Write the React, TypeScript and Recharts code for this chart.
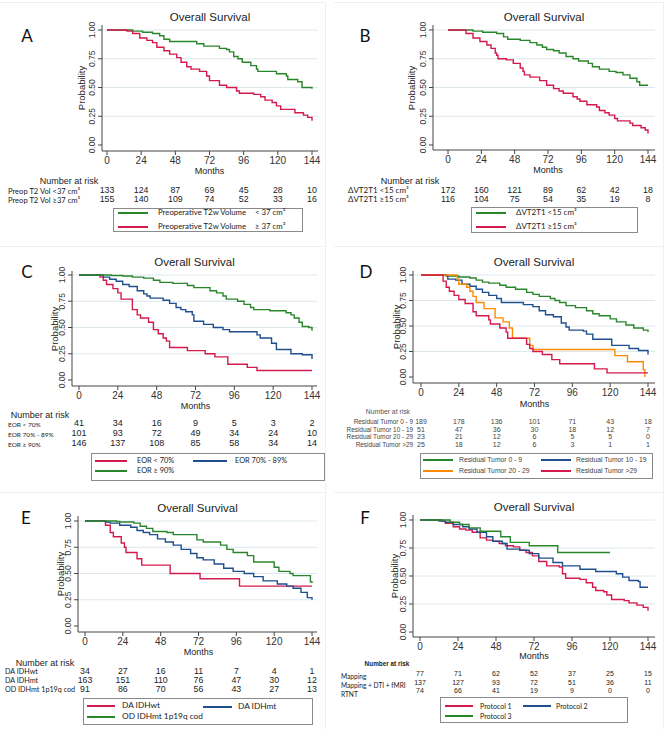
import React from 'react';
import { LineChart, Line, XAxis, YAxis, CartesianGrid } from 'recharts';

type Pt = [number, number];

const MONTH_TICKS = [0, 24, 48, 72, 96, 120, 144];
const PROB_TICKS = [0, 0.25, 0.5, 0.75, 1];

// Kaplan-Meier steps: [month, survival]
const aLow: Pt[] = [[0, 1], [14, 1], [18, 0.99], [25, 0.98], [32, 0.97], [37, 0.95], [40, 0.92], [44, 0.9], [63, 0.88], [68, 0.86], [79, 0.84], [84, 0.83], [86, 0.81], [89, 0.77], [92, 0.75], [95, 0.72], [101, 0.69], [105, 0.66], [106, 0.64], [119, 0.62], [126, 0.6], [127, 0.57], [134, 0.55], [137, 0.5], [144, 0.49]];
const aHigh: Pt[] = [[0, 1], [14, 0.99], [18, 0.97], [23, 0.93], [28, 0.91], [32, 0.89], [35, 0.85], [40, 0.82], [44, 0.79], [49, 0.76], [52, 0.72], [56, 0.68], [59, 0.66], [65, 0.64], [70, 0.6], [72, 0.56], [79, 0.52], [84, 0.5], [91, 0.47], [93, 0.45], [103, 0.44], [108, 0.42], [111, 0.39], [116, 0.37], [119, 0.34], [122, 0.31], [132, 0.28], [138, 0.26], [141, 0.24], [144, 0.21]];

const bLow: Pt[] = [[0, 1], [13, 1], [18, 0.99], [25, 0.98], [35, 0.97], [40, 0.94], [43, 0.92], [52, 0.91], [59, 0.89], [64, 0.87], [68, 0.85], [71, 0.83], [76, 0.82], [80, 0.8], [85, 0.77], [90, 0.75], [94, 0.73], [101, 0.71], [104, 0.68], [109, 0.66], [116, 0.64], [121, 0.63], [126, 0.61], [131, 0.58], [136, 0.55], [138, 0.52], [144, 0.52]];
const bHigh: Pt[] = [[0, 1], [13, 0.97], [18, 0.93], [23, 0.9], [28, 0.87], [31, 0.84], [34, 0.8], [35, 0.78], [36, 0.75], [42, 0.74], [47, 0.71], [52, 0.67], [54, 0.64], [55, 0.61], [59, 0.59], [66, 0.56], [71, 0.52], [76, 0.49], [80, 0.47], [83, 0.45], [90, 0.42], [93, 0.4], [95, 0.38], [100, 0.35], [107, 0.33], [109, 0.3], [113, 0.28], [116, 0.26], [120, 0.23], [122, 0.21], [131, 0.19], [133, 0.17], [139, 0.15], [142, 0.13], [144, 0.1]];

const cLow: Pt[] = [[0, 1], [13, 0.98], [15, 0.95], [17, 0.91], [21, 0.87], [24, 0.83], [26, 0.77], [33, 0.67], [36, 0.62], [38, 0.59], [43, 0.55], [46, 0.48], [49, 0.44], [52, 0.4], [54, 0.37], [56, 0.31], [67, 0.28], [78, 0.25], [84, 0.22], [92, 0.15], [104, 0.12], [110, 0.09], [144, 0.09]];
const cMid: Pt[] = [[0, 1], [15, 0.98], [19, 0.96], [23, 0.94], [27, 0.91], [31, 0.89], [36, 0.85], [40, 0.82], [42, 0.8], [44, 0.78], [52, 0.76], [56, 0.73], [60, 0.69], [63, 0.67], [66, 0.65], [70, 0.62], [71, 0.56], [77, 0.53], [83, 0.5], [89, 0.48], [93, 0.46], [110, 0.43], [112, 0.4], [119, 0.35], [122, 0.29], [131, 0.25], [138, 0.24], [144, 0.2]];
const cHigh: Pt[] = [[0, 1], [20, 0.995], [27, 0.99], [33, 0.98], [40, 0.97], [46, 0.95], [50, 0.93], [58, 0.92], [67, 0.9], [71, 0.88], [81, 0.85], [85, 0.83], [89, 0.8], [91, 0.77], [98, 0.75], [102, 0.72], [106, 0.69], [108, 0.67], [118, 0.66], [128, 0.64], [131, 0.62], [133, 0.59], [136, 0.55], [138, 0.51], [142, 0.5], [144, 0.47]];

const d0to9: Pt[] = [[0, 1], [16, 0.99], [24, 0.98], [31, 0.97], [35, 0.95], [39, 0.93], [43, 0.92], [50, 0.9], [54, 0.88], [60, 0.86], [67, 0.83], [71, 0.81], [75, 0.79], [82, 0.77], [85, 0.75], [88, 0.73], [92, 0.7], [98, 0.68], [105, 0.65], [109, 0.62], [113, 0.6], [120, 0.57], [124, 0.54], [130, 0.51], [135, 0.48], [141, 0.46], [144, 0.44]];
const d10to19: Pt[] = [[0, 1], [17, 0.96], [22, 0.95], [26, 0.91], [31, 0.89], [35, 0.86], [39, 0.83], [43, 0.8], [48, 0.77], [51, 0.73], [65, 0.71], [71, 0.69], [75, 0.65], [79, 0.61], [84, 0.59], [89, 0.53], [92, 0.49], [94, 0.46], [103, 0.45], [105, 0.42], [109, 0.37], [121, 0.31], [132, 0.28], [138, 0.26], [144, 0.22]];
const d20to29: Pt[] = [[0, 1], [23, 0.96], [24, 0.91], [29, 0.88], [31, 0.84], [33, 0.79], [35, 0.73], [40, 0.67], [47, 0.58], [52, 0.54], [56, 0.48], [58, 0.38], [69, 0.31], [71, 0.27], [123, 0.21], [131, 0.15], [141, 0.07], [142, 0]];
const dOver29: Pt[] = [[0, 1], [14, 0.94], [16, 0.88], [18, 0.84], [21, 0.8], [24, 0.76], [28, 0.72], [33, 0.64], [35, 0.6], [43, 0.56], [44, 0.52], [50, 0.48], [54, 0.44], [55, 0.38], [67, 0.32], [69, 0.28], [71, 0.25], [77, 0.22], [83, 0.17], [88, 0.13], [110, 0.08], [118, 0.04], [144, 0.04]];

const eWt: Pt[] = [[0, 1], [13, 0.96], [16, 0.89], [18, 0.85], [23, 0.79], [25, 0.75], [26, 0.7], [33, 0.64], [36, 0.58], [54, 0.5], [73, 0.45], [98, 0.38], [144, 0.38]];
const eMt: Pt[] = [[0, 1], [13, 0.99], [16, 0.98], [22, 0.96], [29, 0.94], [33, 0.91], [37, 0.89], [41, 0.87], [46, 0.83], [51, 0.8], [56, 0.77], [61, 0.73], [67, 0.69], [71, 0.65], [75, 0.63], [82, 0.59], [88, 0.55], [94, 0.52], [101, 0.5], [107, 0.47], [113, 0.43], [122, 0.4], [128, 0.38], [132, 0.36], [137, 0.32], [141, 0.27], [144, 0.25]];
const eOd: Pt[] = [[0, 1], [20, 0.995], [22, 0.99], [31, 0.98], [35, 0.95], [39, 0.93], [43, 0.9], [52, 0.89], [56, 0.87], [71, 0.82], [75, 0.8], [86, 0.77], [90, 0.73], [94, 0.7], [103, 0.67], [107, 0.61], [120, 0.56], [123, 0.52], [130, 0.5], [132, 0.48], [143, 0.42], [144, 0.41]];

const fP1: Pt[] = [[0, 1], [14, 0.99], [16, 0.97], [21, 0.94], [25, 0.92], [29, 0.91], [33, 0.89], [38, 0.84], [42, 0.82], [46, 0.81], [50, 0.79], [54, 0.77], [59, 0.76], [63, 0.73], [67, 0.71], [71, 0.68], [75, 0.63], [80, 0.59], [88, 0.58], [90, 0.52], [92, 0.48], [101, 0.47], [105, 0.44], [109, 0.4], [111, 0.37], [116, 0.36], [118, 0.33], [121, 0.29], [129, 0.28], [132, 0.26], [137, 0.24], [141, 0.22], [144, 0.19]];
const fP2: Pt[] = [[0, 1], [12, 0.99], [16, 0.98], [21, 0.96], [27, 0.94], [31, 0.92], [36, 0.89], [42, 0.85], [46, 0.81], [52, 0.79], [55, 0.74], [63, 0.73], [69, 0.7], [75, 0.66], [84, 0.62], [90, 0.59], [101, 0.56], [111, 0.54], [124, 0.52], [128, 0.49], [132, 0.46], [138, 0.45], [139, 0.4], [144, 0.4]];
const fP3: Pt[] = [[0, 1], [14, 1], [19, 0.98], [25, 0.96], [31, 0.93], [38, 0.9], [51, 0.85], [57, 0.8], [69, 0.77], [87, 0.71], [120, 0.71]];

// Number at risk
const aRiskLabels = ['Preop T2 Vol <37 cm³', 'Preop T2 Vol ≥37 cm³'];
const aRisk = [[133, 124, 87, 69, 45, 28, 10], [155, 140, 109, 74, 52, 33, 16]];
const bRiskLabels = ['ΔVT2T1 <15 cm³', 'ΔVT2T1 ≥15 cm³'];
const bRisk = [[172, 160, 121, 89, 62, 42, 18], [116, 104, 75, 54, 35, 19, 8]];
const cRiskLabels = ['EOR < 70%', 'EOR 70% - 89%', 'EOR ≥ 90%'];
const cRisk = [[41, 34, 16, 9, 5, 3, 2], [101, 93, 72, 49, 34, 24, 10], [146, 137, 108, 85, 58, 34, 14]];
const dRiskLabels = ['Residual Tumor 0 - 9', 'Residual Tumor 10 - 19', 'Residual Tumor 20 - 29', 'Residual Tumor >29'];
const dRisk = [[189, 178, 136, 101, 71, 43, 18], [51, 47, 36, 30, 18, 12, 7], [23, 21, 12, 6, 5, 5, 0], [25, 18, 12, 6, 3, 1, 1]];
const eRiskLabels = ['DA IDHwt', 'DA IDHmt', 'OD IDHmt 1p19q cod'];
const eRisk = [[34, 27, 16, 11, 7, 4, 1], [163, 151, 110, 76, 47, 30, 12], [91, 86, 70, 56, 43, 27, 13]];
const fRiskLabels = ['Mapping', 'Mapping + DTI + fMRI', 'RTNT'];
const fRisk = [[77, 71, 62, 52, 37, 25, 15], [137, 127, 93, 72, 51, 36, 11], [74, 66, 41, 19, 9, 0, 0]];

const GREEN = '#2a862a';
const RED = '#d41a4c';
const BLUE = '#1f4f8c';
const ORANGE = '#ff8a00';

const ARIAL = '"Liberation Sans", Arial, sans-serif';
const CAL = 'Lato, "Open Sans", sans-serif';

const YW = 30;
const XH = 22;
const PADT = 4;

type Anchor = 'start' | 'middle' | 'end';

const T = ({ x, y, a = 'start', size, font = ARIAL, color = '#222', bold, rot, children }: {
    x: number; y: number; a?: Anchor; size: number; font?: string; color?: string; bold?: boolean; rot?: boolean; children: React.ReactNode;
}) => {
    const tx = a === 'start' ? '0' : a === 'middle' ? '-50%' : '-100%';
    return (
        <div
            style={{
                position: 'absolute', left: x, top: y, fontSize: size, fontFamily: font, color,
                fontWeight: bold ? 700 : 400, lineHeight: 0.9, whiteSpace: 'nowrap',
                transform: rot ? 'translate(-50%,-50%) rotate(-90deg)' : `translate(${tx},-50%)`,
            }}
        >
            {children}
        </div>
    );
};

const YTick = (props: any) => {
    const { x, y, payload } = props;
    return (
        <text x={x} y={y} transform={`rotate(-90 ${x} ${y})`} textAnchor="middle" fontSize={8.5} fill="#333" fontFamily={ARIAL}>
            {Number(payload.value).toFixed(2)}
        </text>
    );
};

interface LegendItem { color: string; x1: number; x2: number; y: number; tx: number; text: string; text2?: string; t2x?: number }

interface PanelCfg {
    letter: string; lx: number; ly: number;
    axL: number; axR: number; axT: number; axB: number; x0: number; x144: number; y1: number; y0: number;
    titleY: number; probX: number; monthsY: number;
    series: { color: string; pts: Pt[] }[];
    header: { x: number; y: number; a: Anchor; size: number; color?: string; bold?: boolean };
    labels: string[]; labelX: number; labelA: Anchor; labelYs: number[]; labelSize: number; labelFont: string;
    risk: number[][]; numYs: number[]; numSize: number; tColor?: string;
    box: { l: number; t: number; w: number; h: number };
    legend: LegendItem[]; legSize: number; legFont: string;
}

const panels: PanelCfg[] = [
    {
        letter: 'A', lx: 27, ly: 36,
        axL: 102, axR: 318, axT: 25, axB: 151, x0: 107, x144: 312, y1: 30, y0: 145,
        titleY: 17, probX: 82, monthsY: 170.5,
        series: [{ color: GREEN, pts: aLow }, { color: RED, pts: aHigh }],
        header: { x: 69, y: 180.5, a: 'middle', size: 9 },
        labels: aRiskLabels, labelX: 8, labelA: 'start', labelYs: [191, 199.5], labelSize: 7.6, labelFont: CAL,
        risk: aRisk, numYs: [190.5, 199.5], numSize: 8.8,
        box: { l: 113, t: 208, w: 190, h: 24 },
        legend: [
            { color: GREEN, x1: 118, x2: 148, y: 213, tx: 158, text: 'Preoperative T2w Volume', text2: '< 37 cm³', t2x: 255 },
            { color: RED, x1: 118, x2: 148, y: 227, tx: 158, text: 'Preoperative T2w Volume', text2: '≥ 37 cm³', t2x: 255 },
        ], legSize: 7.8, legFont: CAL,
    },
    {
        letter: 'B', lx: 365, ly: 36,
        axL: 433, axR: 655, axT: 25, axB: 150, x0: 448, x144: 648, y1: 30, y0: 145,
        titleY: 17, probX: 412, monthsY: 170,
        series: [{ color: GREEN, pts: bLow }, { color: RED, pts: bHigh }],
        header: { x: 410, y: 180.5, a: 'middle', size: 9 },
        labels: bRiskLabels, labelX: 348, labelA: 'start', labelYs: [190.5, 199.5], labelSize: 8, labelFont: CAL,
        risk: bRisk, numYs: [190.5, 199.5], numSize: 8.8,
        box: { l: 471, t: 207, w: 167, h: 26 },
        legend: [
            { color: GREEN, x1: 476, x2: 506, y: 213, tx: 516, text: 'ΔVT2T1 <15 cm³' },
            { color: RED, x1: 476, x2: 506, y: 227, tx: 516, text: 'ΔVT2T1 ≥15 cm³' },
        ], legSize: 8, legFont: CAL,
    },
    {
        letter: 'C', lx: 27, ly: 272,
        axL: 72, axR: 317, axT: 271, axB: 386, x0: 79, x144: 312, y1: 275, y0: 380,
        titleY: 262, probX: 55, monthsY: 406,
        series: [{ color: RED, pts: cLow }, { color: BLUE, pts: cMid }, { color: GREEN, pts: cHigh }],
        header: { x: 40, y: 415, a: 'middle', size: 9 },
        labels: cRiskLabels, labelX: 8, labelA: 'start', labelYs: [425, 435, 445], labelSize: 6.5, labelFont: CAL,
        risk: cRisk, numYs: [423, 433, 443], numSize: 9,
        box: { l: 91, t: 453, w: 234, h: 28 },
        legend: [
            { color: RED, x1: 95, x2: 127, y: 461, tx: 137, text: 'EOR < 70%' },
            { color: BLUE, x1: 193, x2: 227, y: 461, tx: 235, text: 'EOR 70% - 89%' },
            { color: GREEN, x1: 95, x2: 127, y: 471, tx: 137, text: 'EOR ≥ 90%' },
        ], legSize: 7.4, legFont: CAL,
    },
    {
        letter: 'D', lx: 366, ly: 272,
        axL: 413, axR: 655, axT: 271, axB: 383, x0: 421, x144: 648, y1: 275, y0: 377,
        titleY: 262, probX: 397, monthsY: 404,
        series: [{ color: GREEN, pts: d0to9 }, { color: BLUE, pts: d10to19 }, { color: ORANGE, pts: d20to29 }, { color: RED, pts: dOver29 }],
        header: { x: 410, y: 412, a: 'end', size: 6.8, color: '#555' },
        labels: dRiskLabels, labelX: 413, labelA: 'end', labelYs: [422, 429.5, 437, 444.5], labelSize: 6.4, labelFont: ARIAL,
        risk: dRisk, numYs: [422, 429.5, 437, 444.5], numSize: 7, tColor: '#444',
        box: { l: 420, t: 453, w: 233, h: 26 },
        legend: [
            { color: GREEN, x1: 423, x2: 453, y: 460, tx: 459, text: 'Residual Tumor 0 - 9' },
            { color: BLUE, x1: 541, x2: 571, y: 460, tx: 576, text: 'Residual Tumor 10 - 19' },
            { color: ORANGE, x1: 423, x2: 453, y: 471, tx: 459, text: 'Residual Tumor 20 - 29' },
            { color: RED, x1: 541, x2: 571, y: 471, tx: 576, text: 'Residual Tumor >29' },
        ], legSize: 6.8, legFont: ARIAL,
    },
    {
        letter: 'E', lx: 26, ly: 518,
        axL: 78, axR: 317, axT: 516, axB: 632, x0: 85, x144: 312, y1: 521, y0: 626,
        titleY: 508, probX: 61, monthsY: 652,
        series: [{ color: RED, pts: eWt }, { color: BLUE, pts: eMt }, { color: GREEN, pts: eOd }],
        header: { x: 45, y: 662.5, a: 'middle', size: 9 },
        labels: eRiskLabels, labelX: 5, labelA: 'start', labelYs: [672, 681, 690], labelSize: 7.2, labelFont: CAL,
        risk: eRisk, numYs: [671.5, 680.5, 689.5], numSize: 8.8,
        box: { l: 83, t: 698, w: 230, h: 27 },
        legend: [
            { color: RED, x1: 87, x2: 115, y: 706, tx: 122, text: 'DA IDHwt' },
            { color: BLUE, x1: 203, x2: 232, y: 707, tx: 238, text: 'DA IDHmt' },
            { color: GREEN, x1: 87, x2: 115, y: 717, tx: 122, text: 'OD IDHmt 1p19q cod' },
        ], legSize: 8.3, legFont: CAL,
    },
    {
        letter: 'F', lx: 365, ly: 518,
        axL: 413, axR: 655, axT: 515, axB: 637, x0: 420, x144: 648, y1: 520, y0: 632,
        titleY: 507, probX: 395, monthsY: 656,
        series: [{ color: RED, pts: fP1 }, { color: BLUE, pts: fP2 }, { color: GREEN, pts: fP3 }],
        header: { x: 387, y: 663.5, a: 'middle', size: 6.4, bold: true },
        labels: fRiskLabels, labelX: 341, labelA: 'start', labelYs: [677, 686, 695], labelSize: 6.6, labelFont: CAL,
        risk: fRisk, numYs: [674, 682.5, 691], numSize: 7,
        box: { l: 440, t: 697, w: 188, h: 26 },
        legend: [
            { color: RED, x1: 445, x2: 473, y: 706, tx: 480, text: 'Protocol 1' },
            { color: BLUE, x1: 523, x2: 551, y: 706, tx: 556, text: 'Protocol 2' },
            { color: GREEN, x1: 445, x2: 473, y: 716, tx: 480, text: 'Protocol 3' },
        ], legSize: 7, legFont: CAL,
    },
];

const Panel = ({ p }: { p: PanelCfg }) => {
    const w = p.axR - p.axL + YW + 4;
    const h = p.axB - p.axT + PADT + XH;
    const mx = (m: number) => p.x0 + ((p.x144 - p.x0) * m) / 144;
    const tc = p.tColor || '#222';
    return (
        <>
            <div style={{ position: 'absolute', left: p.axL - YW, top: p.axT - PADT }}>
                <LineChart width={w} height={h} margin={{ top: PADT, right: 4, bottom: 0, left: 0 }}>
                    <CartesianGrid horizontal vertical={false} horizontalValues={[0.25, 0.5, 0.75, 1]} stroke="#dde8ee" />
                    <XAxis
                        type="number" dataKey="m" domain={[0, 144]} ticks={MONTH_TICKS} interval={0}
                        padding={{ left: p.x0 - p.axL, right: p.axR - p.x144 }} height={XH}
                        stroke="#444" tickSize={4} allowDuplicatedCategory={false}
                        tick={{ fontSize: 10, fill: '#333', fontFamily: ARIAL }}
                    />
                    <YAxis
                        type="number" domain={[0, 1]} ticks={PROB_TICKS} interval={0} width={YW}
                        padding={{ top: p.y1 - p.axT, bottom: p.axB - p.y0 }}
                        stroke="#444" tickSize={4} tickMargin={3} tick={<YTick />}
                    />
                    {p.series.map((s, i) => (
                        <Line
                            key={i}
                            data={s.pts.map(([m, v]) => ({ m, s: v }))}
                            dataKey="s" type="stepAfter" stroke={s.color} strokeWidth={1.4}
                            dot={false} activeDot={false} isAnimationActive={false}
                        />
                    ))}
                </LineChart>
            </div>
            <T x={p.lx} y={p.ly} a="middle" size={17} font={CAL} color="#111">{p.letter}</T>
            <T x={(p.axL + p.axR) / 2} y={p.titleY} a="middle" size={11.5}>Overall Survival</T>
            <T x={p.probX} y={(p.axT + p.axB) / 2} size={9.5} rot>Probability</T>
            <T x={(p.x0 + p.x144) / 2} y={p.monthsY} a="middle" size={9}>Months</T>
            <T x={p.header.x} y={p.header.y} a={p.header.a} size={p.header.size} color={p.header.color || '#222'} bold={p.header.bold}>
                Number at risk
            </T>
            {p.labels.map((l, i) => (
                <T key={'l' + i} x={p.labelX} y={p.labelYs[i]} a={p.labelA} size={p.labelSize} font={p.labelFont} color={tc}>{l}</T>
            ))}
            {p.risk.map((row, i) =>
                row.map((n, j) => (
                    <T key={`n${i}-${j}`} x={mx(MONTH_TICKS[j])} y={p.numYs[i]} a="middle" size={p.numSize} color={tc}>{n}</T>
                ))
            )}
            <div
                style={{
                    position: 'absolute', left: p.box.l, top: p.box.t, width: p.box.w, height: p.box.h,
                    border: '1px solid #8a8a8a', boxSizing: 'border-box', background: '#fff',
                }}
            />
            {p.legend.map((e, i) => (
                <React.Fragment key={'g' + i}>
                    <div style={{ position: 'absolute', left: e.x1, top: e.y - 1, width: e.x2 - e.x1, height: 2, background: e.color }} />
                    <T x={e.tx} y={e.y} size={p.legSize} font={p.legFont} color={tc}>{e.text}</T>
                    {e.text2 && <T x={e.t2x || 0} y={e.y} size={p.legSize} font={p.legFont} color={tc}>{e.text2}</T>}
                </React.Fragment>
            ))}
        </>
    );
};

export default function App() {
    return (
        <div style={{ position: 'relative', width: 667, height: 729, background: '#fff', overflow: 'hidden' }}>
            <style>{'body{margin:0}'}</style>
            {[2, 246, 492].map((y) => (
                <React.Fragment key={y}>
                    <div style={{ position: 'absolute', left: 0, top: y, width: 325, height: 1, background: '#eef1f2' }} />
                    <div style={{ position: 'absolute', left: 334, top: y, width: 329, height: 1, background: '#eef1f2' }} />
                </React.Fragment>
            ))}
            <div style={{ position: 'absolute', left: 325, top: 2, width: 1, height: 727, background: '#eef1f2' }} />
            <div style={{ position: 'absolute', left: 663, top: 2, width: 1, height: 727, background: '#eef1f2' }} />
            {panels.map((p) => (
                <Panel key={p.letter} p={p} />
            ))}
        </div>
    );
}
